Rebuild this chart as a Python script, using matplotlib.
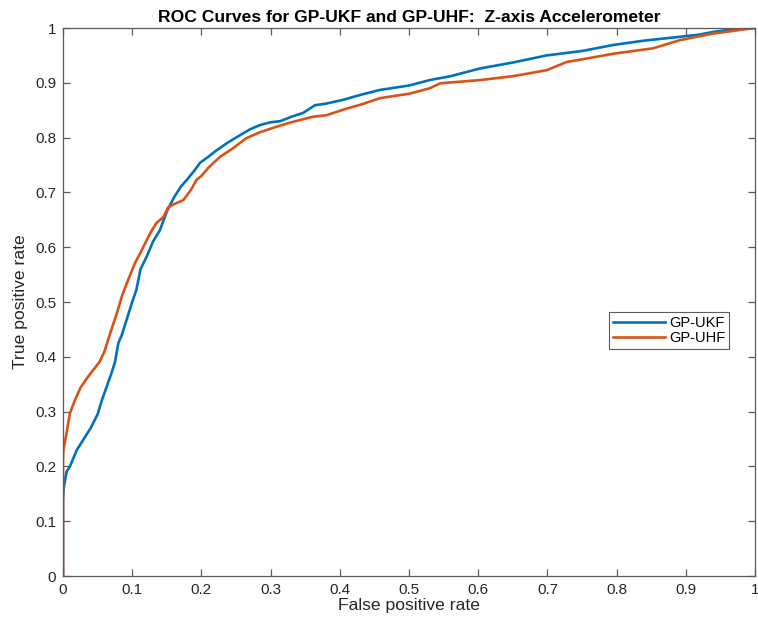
import matplotlib
matplotlib.use("Agg")
import matplotlib.pyplot as plt

plt.rcParams['font.family'] = ['Liberation Sans', 'DejaVu Sans']

# ROC curve for GP-UKF (false positive rate, true positive rate)
ukf_fpr = [0, 0, 0.001, 0.005, 0.01, 0.015, 0.02, 0.03, 0.04, 0.05, 0.056, 0.063,
           0.07, 0.075, 0.08, 0.085, 0.09, 0.1, 0.106, 0.112, 0.121, 0.13, 0.14,
           0.15, 0.16, 0.17, 0.179, 0.19, 0.198, 0.21, 0.22, 0.237, 0.25, 0.27,
           0.285, 0.3, 0.314, 0.33, 0.347, 0.364, 0.38, 0.405, 0.43, 0.458, 0.5,
           0.53, 0.56, 0.602, 0.65, 0.699, 0.75, 0.795, 0.84, 0.892, 0.92, 0.94,
           0.97, 1.0]
ukf_tpr = [0, 0.14, 0.16, 0.19, 0.20, 0.215, 0.23, 0.25, 0.27, 0.295, 0.32, 0.345,
           0.37, 0.39, 0.425, 0.44, 0.46, 0.50, 0.522, 0.56, 0.583, 0.61, 0.631,
           0.665, 0.69, 0.71, 0.723, 0.74, 0.754, 0.765, 0.775, 0.79, 0.80, 0.815,
           0.823, 0.828, 0.83, 0.838, 0.845, 0.859, 0.862, 0.869, 0.878, 0.887, 0.895,
           0.905, 0.912, 0.926, 0.937, 0.95, 0.958, 0.969, 0.977, 0.984, 0.988, 0.993,
           0.998, 1.0]

# ROC curve for GP-UHF
uhf_fpr = [0, 0, 0.0005, 0.005, 0.01, 0.017, 0.025, 0.033, 0.04, 0.053, 0.06, 0.07,
           0.078, 0.085, 0.094, 0.104, 0.112, 0.121, 0.128, 0.135, 0.145, 0.152,
           0.163, 0.174, 0.185, 0.193, 0.2, 0.21, 0.227, 0.245, 0.265, 0.285, 0.309,
           0.33, 0.361, 0.381, 0.41, 0.43, 0.458, 0.5, 0.53, 0.545, 0.603, 0.65,
           0.699, 0.728, 0.76, 0.795, 0.853, 0.892, 0.94, 0.97, 1.0]
uhf_tpr = [0, 0.21, 0.23, 0.26, 0.297, 0.32, 0.343, 0.358, 0.37, 0.391, 0.41, 0.45,
           0.48, 0.51, 0.54, 0.571, 0.59, 0.613, 0.63, 0.644, 0.655, 0.673,
           0.68, 0.686, 0.705, 0.723, 0.73, 0.745, 0.765, 0.78, 0.799, 0.81, 0.82,
           0.828, 0.838, 0.841, 0.853, 0.86, 0.872, 0.88, 0.89, 0.899, 0.905, 0.912,
           0.923, 0.938, 0.945, 0.953, 0.963, 0.978, 0.99, 0.995, 1.0]

series_labels = ['GP-UKF', 'GP-UHF']
ticks = [0, 0.1, 0.2, 0.3, 0.4, 0.5, 0.6, 0.7, 0.8, 0.9, 1]
tick_labels = ['0', '0.1', '0.2', '0.3', '0.4', '0.5', '0.6', '0.7', '0.8', '0.9', '1']

fig = plt.figure(figsize=(7.58, 6.24), dpi=100)
ax = fig.add_axes([63 / 758, 48 / 624, 692 / 758, 548 / 624])

ax.plot(ukf_fpr, ukf_tpr, color='#0072BD', lw=1.9, label=series_labels[0])
ax.plot(uhf_fpr, uhf_tpr, color='#D95319', lw=1.9, label=series_labels[1])

ax.set_xlim(0, 1)
ax.set_ylim(0, 1)
ax.set_xticks(ticks)
ax.set_xticklabels(tick_labels)
ax.set_yticks(ticks)
ax.set_yticklabels(tick_labels)

axis_color = '#5a5a5a'
for s in ax.spines.values():
    s.set_color(axis_color)
    s.set_linewidth(0.9)
ax.tick_params(direction='in', length=5, width=0.9, color=axis_color,
               top=True, right=True, labelsize=11, labelcolor='#262626', pad=5)

ax.set_xlabel('False positive rate', fontsize=12.6, color='#262626', labelpad=1)
ax.set_ylabel('True positive rate', fontsize=12.6, color='#262626', labelpad=5)
ax.set_title('ROC Curves for GP-UKF and GP-UHF:  Z-axis Accelerometer',
             fontsize=12.6, fontweight='bold', pad=4)

leg = ax.legend(loc='center', bbox_to_anchor=(0.876, 0.448), fontsize=10.5,
                frameon=True, fancybox=False, handlelength=3.6, handletextpad=0.3,
                borderpad=0.25, labelspacing=0.05, borderaxespad=0)
leg.get_frame().set_edgecolor('#333333')
leg.get_frame().set_linewidth(0.8)

fig.savefig('out.png', dpi=100)
